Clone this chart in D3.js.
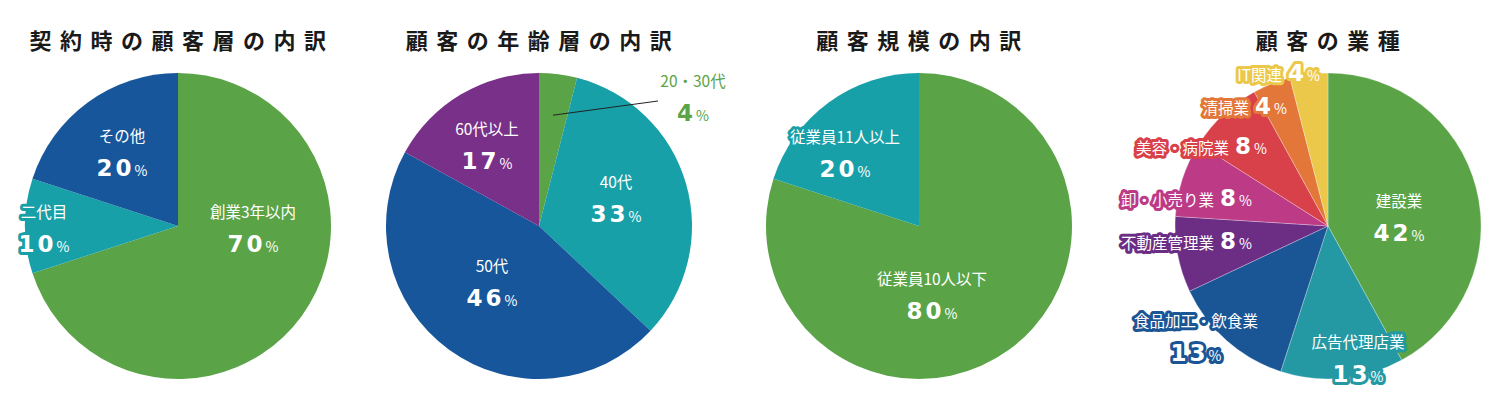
<!DOCTYPE html>
<html>
<head>
<meta charset="utf-8">
<script src="https://cdn.jsdelivr.net/npm/d3@7"></script>
<style>
  body { margin: 0; background: #fff; }
  svg { display: block; }
  text { font-family: "Noto Sans CJK JP", "Noto Sans", sans-serif; }
  .num { font-family: "DejaVu Sans", "Noto Sans", sans-serif; }
</style>
</head>
<body>
<div id="chart"></div>
<script>
// chart 1: 契約時の顧客層の内訳
const titles = ["契約時の顧客層の内訳", "顧客の年齢層の内訳", "顧客規模の内訳", "顧客の業種"];

const c1Labels = ["創業3年以内", "二代目", "その他"];
const c1Values = [70, 10, 20];
const c1Colors = ["#5aa447", "#18a0a9", "#17569a"];

// chart 2: 顧客の年齢層の内訳
const c2Labels = ["20・30代", "40代", "50代", "60代以上"];
const c2Values = [4, 33, 46, 17];
const c2Colors = ["#5aa447", "#18a0a9", "#17569a", "#793089"];

// chart 3: 顧客規模の内訳
const c3Labels = ["従業員10人以下", "従業員11人以上"];
const c3Values = [80, 20];
const c3Colors = ["#5aa447", "#18a0a9"];

// chart 4: 顧客の業種
const c4Labels = ["建設業", "広告代理店業", "食品加工・飲食業", "不動産管理業", "卸・小売り業", "美容・病院業", "清掃業", "IT関連"];
const c4Values = [42, 13, 13, 8, 8, 8, 4, 4];
const c4Colors = ["#5aa447", "#2599a3", "#1a5595", "#6c2d85", "#bc3a86", "#d8404a", "#e3773a", "#ecc84a"];

const width = 1500, height = 400;
const radius = 153;
const cy = 226;

const svg = d3.select("#chart").append("svg")
  .attr("width", width)
  .attr("height", height);

const pie = d3.pie().sort(null).value(d => d);
const arc = d3.arc().innerRadius(0).outerRadius(radius);

// label layout: [dx, dy, mode] relative to pie centre ("stack" = two lines, "inline" = one line anchored end)
const layouts = [
  [[75, -13, "stack"], [-134, -13, "stack"], [-56, -89, "stack"]],
  [[154, -144, "outside"], [77, -43, "stack"], [-47, 41, "stack"], [-52, -96, "stack"]],
  [[13, 54, "stack"], [-74, -88, "stack"]],
  [[71, -24, "stack"], [30, 117, "stack"], [-132, 96, "stack"],
   [-76, 17, "inline"], [-76, -26, "inline"], [-61, -78, "inline"], [-41, -118, "inline"], [-8, -151, "inline"]]
];

const charts = [
  { cx: 178, labels: c1Labels, values: c1Values, colors: c1Colors },
  { cx: 539, labels: c2Labels, values: c2Values, colors: c2Colors },
  { cx: 919, labels: c3Labels, values: c3Values, colors: c3Colors },
  { cx: 1328, labels: c4Labels, values: c4Values, colors: c4Colors }
];

function withHalo(sel, color) {
  if (!color) return sel;
  return sel.attr("stroke", color)
    .attr("stroke-width", 6)
    .attr("stroke-linejoin", "round")
    .attr("paint-order", "stroke");
}

function addPercent(t, value, dx) {
  t.append("tspan")
    .attr("class", "num")
    .attr("font-size", 23)
    .attr("font-weight", 700)
    .attr("letter-spacing", 3)
    .attr("dx", dx || 0)
    .text(value);
  t.append("tspan")
    .attr("font-size", 14)
    .attr("font-weight", 400)
    .attr("dx", 0)
    .text("%");
}

charts.forEach((c, ci) => {
  const g = svg.append("g").attr("transform", `translate(${c.cx},${cy})`);

  // title
  g.append("text")
    .attr("x", 4)
    .attr("y", -177)
    .attr("text-anchor", "middle")
    .attr("font-size", 22)
    .attr("font-weight", 700)
    .attr("letter-spacing", 8.5)
    .attr("fill", "#1a1a1a")
    .text(titles[ci]);

  const arcs = pie(c.values);

  g.selectAll("path.slice")
    .data(arcs)
    .join("path")
    .attr("class", "slice")
    .attr("d", arc)
    .attr("fill", (d, i) => c.colors[i])
    .attr("stroke", ci === 3 ? "rgba(255,255,255,0.35)" : "none")
    .attr("stroke-width", 0.8);

  // leader line for small outside label (chart 2)
  if (ci === 1) {
    const a = arcs[0];
    const mid = (a.startAngle + a.endAngle) / 2;
    const r0 = radius * 0.73;
    g.append("line")
      .attr("x1", Math.sin(mid) * r0)
      .attr("y1", -Math.cos(mid) * r0)
      .attr("x2", 119)
      .attr("y2", -125)
      .attr("stroke", "#222")
      .attr("stroke-width", 1);
  }

  arcs.forEach((d, i) => {
    const [dx, dy, mode] = layouts[ci][i];
    const color = c.colors[i];
    if (mode === "inline") {
      const t = g.append("text")
        .attr("x", dx)
        .attr("y", dy + 6)
        .attr("text-anchor", "end")
        .attr("fill", "#fff");
      withHalo(t, color);
      t.append("tspan").attr("font-size", 15.5).text(c.labels[i]);
      addPercent(t, c.values[i], 6);
      return;
    }
    const outside = mode === "outside";
    const fill = outside ? color : "#fff";
    const halo = outside ? null : color;

    const t1 = g.append("text")
      .attr("x", dx)
      .attr("y", dy + 5)
      .attr("text-anchor", "middle")
      .attr("font-size", 15.5)
      .attr("fill", fill)
      .text(c.labels[i]);
    withHalo(t1, halo);

    const t2 = g.append("text")
      .attr("x", dx)
      .attr("y", dy + 39)
      .attr("text-anchor", "middle")
      .attr("fill", fill);
    withHalo(t2, halo);
    addPercent(t2, c.values[i]);
  });
});
</script>
</body>
</html>
